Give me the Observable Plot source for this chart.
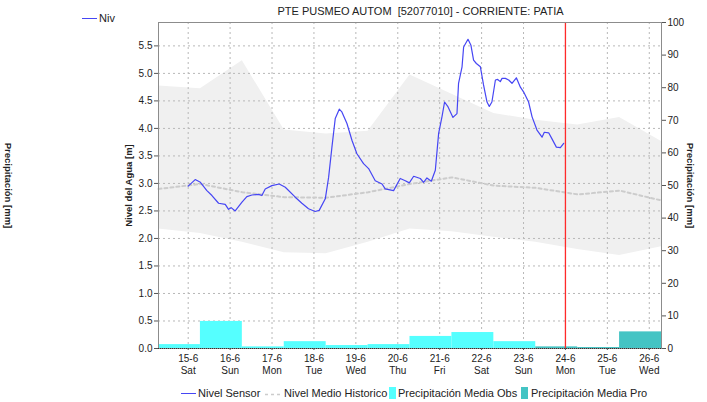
<!DOCTYPE html>
<html><head><meta charset="utf-8">
<script src="https://cdn.jsdelivr.net/npm/d3@7"></script>
<script src="https://cdn.jsdelivr.net/npm/@observablehq/plot@0.6"></script>
<style>
body{margin:0;background:#fff;font-family:"Liberation Sans",Arial,sans-serif;}
#wrap{position:relative;width:707px;height:402px;overflow:hidden;background:#fff;}
.abs{position:absolute;white-space:nowrap;color:#222;font-size:11px;line-height:13px;}
</style></head><body><div id="wrap"></div>
<script>
// ---- data ----
const histDays = ["2024-06-14T07:00Z","2024-06-15T07:00Z","2024-06-16T07:00Z","2024-06-17T07:00Z","2024-06-18T07:00Z","2024-06-19T07:00Z","2024-06-20T07:00Z","2024-06-21T07:00Z","2024-06-22T07:00Z","2024-06-23T07:00Z","2024-06-24T07:00Z","2024-06-25T07:00Z","2024-06-26T07:00Z"];
const histHigh   = [4.77,4.72,5.23,3.97,3.90,3.95,4.97,4.62,4.27,4.15,4.06,4.20,3.76];
const histLow    = [2.17,2.09,1.93,1.74,1.72,1.93,2.17,2.12,2.02,1.93,1.80,1.69,1.85];
const histMedian = [2.90,2.99,2.84,2.75,2.74,2.84,2.99,3.11,2.96,2.92,2.80,2.87,2.69];

const precipObsMm = [1.2,8.3,0.5,2.1,0.9,1.2,3.7,4.9,2.1,null,null,null];
const precipProMm = [null,null,null,null,null,null,null,null,null,0.5,0.3,5.1];

const sensorHoursSince15Jun = [0,4,7,10.7,13.6,17.4,21.2,23.1,24.6,26.9,30.8,33.6,36.5,40.3,42.2,44.1,47.9,52.1,55.6,61.3,65.1,68.9,72.7,75,78.5,80.4,82.3,84.2,86.5,88,90.9,93.8,96.6,100.4,103.3,107.1,111,112.8,117.6,121.4,124.3,126.6,129.1,132.9,134.8,136.7,139.2,141.5,143.4,145.3,146.8,148.8,151.6,153.9,154.8,156.8,157.7,160.2,161.9,163.4,165,167.3,169.1,171.1,172.4,173.9,175.9,177.2,178.7,179.7,181.6,183.5,185.4,187.9,190.2,192.1,194.9,196.9,199.7,202.6,203.9,206.4,208.3,210.8,213.1,215];
const sensorLevel = [2.95,3.07,3.02,2.87,2.78,2.64,2.62,2.53,2.56,2.50,2.66,2.76,2.79,2.80,2.78,2.90,2.96,2.99,2.93,2.75,2.64,2.54,2.49,2.51,2.72,3.11,3.66,4.18,4.35,4.30,4.09,3.78,3.54,3.36,3.27,3.05,2.99,2.90,2.87,3.09,3.05,3.01,3.13,3.09,3.02,3.10,3.04,3.24,3.91,4.21,4.48,4.39,4.20,4.27,4.82,5.12,5.48,5.62,5.51,5.24,5.18,5.12,4.79,4.48,4.40,4.48,4.88,4.89,4.85,4.91,4.91,4.88,4.82,4.92,4.75,4.66,4.48,4.21,3.97,3.84,3.93,3.92,3.81,3.66,3.65,3.73];

const nowTime = "2024-06-24T00:00Z";
const leftTicks = [0,0.5,1,1.5,2,2.5,3,3.5,4,4.5,5,5.5];
const rightTicksMm = [0,10,20,30,40,50,60,70,80,90,100];
const dayNames = ["Sun","Mon","Tue","Wed","Thu","Fri","Sat"];

// ---- build tables ----
const yMax = 5.925, mmMax = 100, k = yMax / mmMax;
const hist = histDays.map((d,i)=>({t:new Date(d), hi:histHigh[i], lo:histLow[i], med:histMedian[i]}));
const bars = [];
for (let i=0;i<histDays.length-1;i++){
  if (precipObsMm[i]!=null) bars.push({t1:new Date(histDays[i]), t2:new Date(histDays[i+1]), v:precipObsMm[i], kind:"obs"});
  if (precipProMm[i]!=null) bars.push({t1:new Date(histDays[i]), t2:new Date(histDays[i+1]), v:precipProMm[i], kind:"pro"});
}
const base = Date.parse("2024-06-15T00:00Z");
const sensor = sensorHoursSince15Jun.map((h,i)=>({t:new Date(base+h*3600e3), v:sensorLevel[i]}));
const xTicks = d3.utcDay.range(new Date("2024-06-15T00:00Z"), new Date("2024-06-27T00:00Z"));

const chart = Plot.plot({
  width:707, height:380,
  marginLeft:158, marginRight:46, marginTop:22, marginBottom:32,
  style:{fontFamily:'"Liberation Sans",Arial,sans-serif', fontSize:"10px", color:"#222", background:"#fff"},
  x:{type:"utc", domain:[new Date("2024-06-14T07:00Z"), new Date("2024-06-26T07:00Z")]},
  y:{domain:[0,yMax]},
  marks:[
    Plot.areaY(hist,{x:"t", y1:"lo", y2:"hi", fill:"#f0f0f0"}),
    Plot.gridY(leftTicks.slice(1),{stroke:"#b8b8b8", strokeOpacity:1, strokeDasharray:"2,3"}),
    Plot.gridX(xTicks,{stroke:"#b8b8b8", strokeOpacity:1, strokeDasharray:"2,3"}),
    Plot.rectY(bars,{x1:"t1", x2:"t2", y1:0, y2:d=>d.v*k, fill:d=>d.kind==="obs"?"#55ffff":"#44c4c4"}),
    Plot.line(hist,{x:"t", y:"med", stroke:"#cccccc", strokeWidth:2, strokeDasharray:"3,3"}),
    Plot.line(sensor,{x:"t", y:"v", stroke:"#4646f4", strokeWidth:1.2}),
    Plot.ruleX([new Date(nowTime)],{stroke:"#ff2a2a", strokeWidth:1.3}),
    Plot.frame({stroke:"#8c8c8c"}),
    Plot.ruleY([0],{stroke:"#333", strokeDasharray:"1,1"}),
    Plot.axisY(leftTicks,{anchor:"left", tickSize:4, tickPadding:2, tickFormat:d3.format(".1f"), label:null, fontSize:10, stroke:"#555"}),
    Plot.axisY(rightTicksMm.map(v=>v*k),{anchor:"right", tickSize:4, tickPadding:2, tickFormat:d=>String(Math.round(d/k)), label:null, fontSize:10, stroke:"#555"}),
    Plot.axisX(xTicks,{anchor:"bottom", tickSize:2, tickPadding:3, label:null, fontSize:10, lineHeight:1.2, stroke:"#555",
      tickFormat:d=>`${d.getUTCDate()}-${d.getUTCMonth()+1}\n${dayNames[d.getUTCDay()]}`}),
    Plot.text(["Nivel del Agua [m]"],{frameAnchor:"left", dx:-30, rotate:-90, textAnchor:"middle", fontWeight:"bold", fontSize:9.5, fill:"#222"}),
    Plot.text(["Precipitación [mm]"],{frameAnchor:"right", dx:29, rotate:90, textAnchor:"middle", fontWeight:"bold", fontSize:9.5, fill:"#222"}),
    Plot.text(["Precipitación [mm]"],{frameAnchor:"left", dx:-150, rotate:90, textAnchor:"middle", fontWeight:"bold", fontSize:9.5, fill:"#222"}),
    Plot.text(["PTE PUSMEO AUTOM  [52077010] - CORRIENTE: PATIA"],{frameAnchor:"top", dx:10.5, dy:-11, lineAnchor:"middle", fontSize:11, fill:"#222"})
  ]
});
const wrap = document.getElementById("wrap");
chart.style.position="absolute"; chart.style.left="0"; chart.style.top="0";
wrap.appendChild(chart);

function add(html, style){const e=document.createElement("div"); e.className="abs"; e.innerHTML=html; Object.assign(e.style, style); wrap.appendChild(e); return e;}
// stray top-left legend fragment (only "Niv" visible in the reference)
add('',{left:"82px", top:"18px", width:"15px", height:"1.3px", background:"#4646f4"});
add('Niv',{left:"99px", top:"12px"});
// bottom legend
add('',{left:"181px", top:"393px", width:"15px", height:"1.3px", background:"#4646f4"});
add('Nivel Sensor',{left:"198px", top:"387px"});
add('<svg width="17" height="3"><line x1="0" y1="1.5" x2="17" y2="1.5" stroke="#cccccc" stroke-width="1.5" stroke-dasharray="3,3"/></svg>',{left:"265px", top:"391px", lineHeight:"3px"});
add('Nivel Medio Historico',{left:"284px", top:"387px"});
add('',{left:"389px", top:"387px", width:"7px", height:"12px", background:"#55ffff"});
add('Precipitación Media Obs',{left:"398px", top:"387px"});
add('',{left:"521px", top:"387px", width:"7px", height:"12px", background:"#44c4c4"});
add('Precipitación Media Pro',{left:"531px", top:"387px"});
</script></body></html>
